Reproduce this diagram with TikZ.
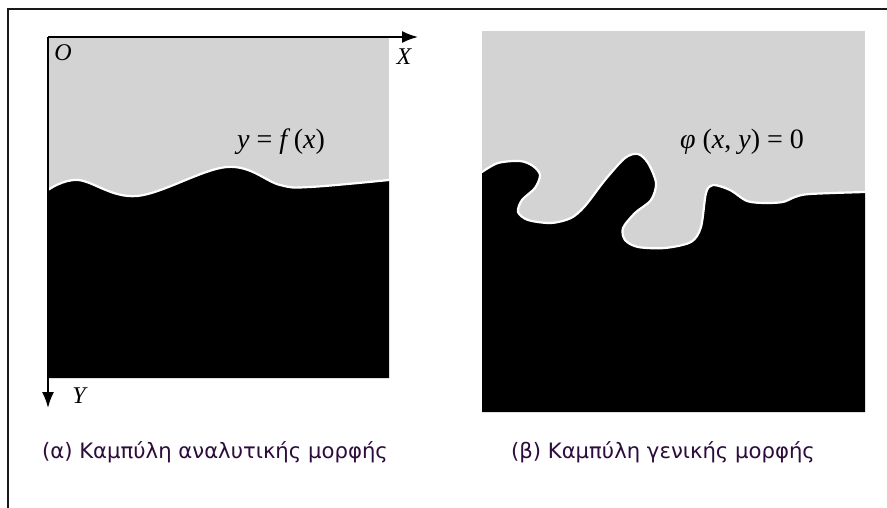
\documentclass[tikz,border=0pt]{standalone}
\usepackage{fontspec}
\setmainfont{Liberation Serif}
\newfontfamily\capfont{DejaVu Sans}
\usetikzlibrary{arrows.meta}
\definecolor{panelgray}{RGB}{211,211,211}
\definecolor{capcol}{RGB}{45,12,60}
\definecolor{framecol}{RGB}{25,25,25}
\tikzset{
  axis/.style={line width=1.8pt, draw=black, -{Latex[length=16pt,width=12pt]}},
  edge/.style={draw=white, line width=2.2pt, line cap=round},
  mathlbl/.style={font=\fontsize{28}{32}\selectfont, inner sep=0pt},
  axlbl/.style={font=\fontsize{24}{28}\selectfont\itshape, inner sep=0pt},
  caplbl/.style={font=\capfont\fontsize{21.2}{25}\selectfont, text=capcol, inner sep=0pt},
}
\begin{document}
\begin{tikzpicture}[x=1pt,y=-1pt]
\useasboundingbox (0,0) rectangle (887,508);
\fill[white] (0,0) rectangle (887,508);
% frame
\draw[framecol, line width=2pt] (8,508) -- (8,9) -- (887,9);

% ---------- left panel ----------
\fill[panelgray] (48,37) rectangle (389,378);
\fill[black] plot[smooth, tension=0.6] coordinates {(48,190) (78,180) (137,196) (227,167) (280,185) (310,187) (389,180)}
  -- (389,378) -- (48,378) -- cycle;
\draw[edge] plot[smooth, tension=0.6] coordinates {(48,190) (78,180) (137,196) (227,167) (280,185) (310,187) (389,180)};
\coordinate (O) at (48,37);
\coordinate (Xend) at (418,37);
\coordinate (Yend) at (48,408);
\draw[axis] (O) -- (Xend);
\draw[axis] (O) -- (Yend);
\node[axlbl] (lO) at (63,53) {O};
\node[axlbl] (lX) at (404,57) {X};
\node[axlbl] (lY) at (79,396) {Y};
\node[mathlbl] (lf) at (281,142) {\textit{y} = \textit{f}\hspace{0.12em}(\textit{x})};
\node[caplbl] (capa) at (215,452) {(α) Καμπύλη αναλυτικής μορφής};

% ---------- right panel ----------
\fill[panelgray] (482,31) rectangle (865,412);
\fill[black] plot[smooth, tension=0.5] coordinates {(482,172) (498,163) (520,161) (533,166) (540,175) (535,188) (522,200) (518,212) (528,220) (551,223) (571,218) (585,206) (605,180) (625,158) (638,154) (648,163) (656,183) (651,200) (635,213) (623,228) (625,240) (638,247) (665,248) (691,242) (701,227) (706,193) (713,185) (730,190) (747,201) (765,203) (783,202) (795,197) (810,194) (865,192)}
  -- (865,412) -- (482,412) -- cycle;
\draw[edge] plot[smooth, tension=0.5] coordinates {(482,172) (498,163) (520,161) (533,166) (540,175) (535,188) (522,200) (518,212) (528,220) (551,223) (571,218) (585,206) (605,180) (625,158) (638,154) (648,163) (656,183) (651,200) (635,213) (623,228) (625,240) (638,247) (665,248) (691,242) (701,227) (706,193) (713,185) (730,190) (747,201) (765,203) (783,202) (795,197) (810,194) (865,192)};
\node[mathlbl] (lphi) at (742,142) {\textit{φ} (\textit{x}, \textit{y}) = 0};
\node[caplbl] (capb) at (663,452) {(β) Καμπύλη γενικής μορφής};
\end{tikzpicture}
\end{document}
